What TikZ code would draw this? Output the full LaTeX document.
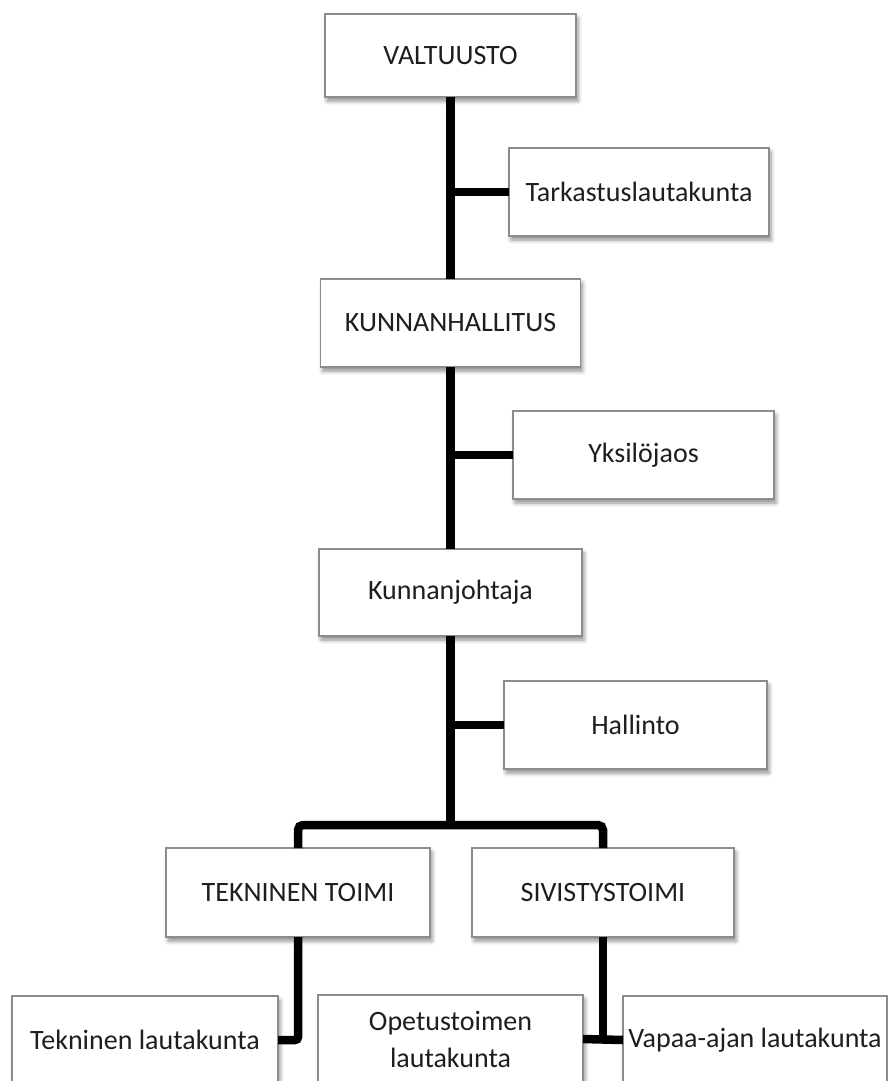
\documentclass[tikz,border=0pt]{standalone}
\usepackage{fontspec}
\setmainfont{Carlito}
\usetikzlibrary{shadows.blur}
\definecolor{boxline}{HTML}{8C8C8C}
\definecolor{txt}{HTML}{1E1E1E}
\tikzset{
  orgbox/.style={draw=boxline, line width=1.4pt, fill=white, inner sep=0pt, outer sep=0pt,
    text=txt, font=\fontsize{28}{37}\selectfont,
    blur shadow={shadow xshift=2pt, shadow yshift=-4pt, shadow blur radius=4pt, shadow opacity=45}},
  link/.style={line width=8.5pt, black}
}
\begin{document}
\begin{tikzpicture}[x=1pt,y=-1pt]
\useasboundingbox (0,0) rectangle (888,1081);
\clip (0,0) rectangle (888,1081);
\node[orgbox, minimum width=251pt, minimum height=83pt] (valt) at (450.5,55.5) {VALTUUSTO};
\node[orgbox, minimum width=260pt, minimum height=88pt] (tark) at (639,192) {Tarkastuslautakunta};
\node[orgbox, minimum width=260pt, minimum height=88pt] (khall) at (450.5,323) {KUNNANHALLITUS};
\node[orgbox, minimum width=261pt, minimum height=88pt] (yksi) at (643.5,455) {Yksilöjaos};
\node[orgbox, minimum width=263pt, minimum height=87pt] (kjoht) at (450.5,592.5) {Kunnanjohtaja};
\node[orgbox, minimum width=263pt, minimum height=88pt] (hall) at (635.5,725) {Hallinto};
\node[orgbox, minimum width=264pt, minimum height=89pt] (tek) at (298,892.5) {TEKNINEN TOIMI};
\node[orgbox, minimum width=262pt, minimum height=89pt] (siv) at (603,892.5) {SIVISTYSTOIMI};
\node[orgbox, minimum width=266pt, minimum height=88pt] (teklk) at (145,1040) {Tekninen lautakunta};
\node[orgbox, minimum width=265pt, minimum height=88pt, align=center] (opet) at (450.5,1039) {Opetustoimen\\lautakunta};
\node[orgbox, minimum width=264pt, minimum height=88pt] (vapaa) at (755,1040) {Vapaa-ajan lautakunta};
\coordinate (bar) at (450.5,825);
% trunk
\draw[link] (valt.south) -- (khall.north);
\draw[link] (tark.west) -- (tark.west -| valt.south);
\draw[link] (khall.south) -- (kjoht.north);
\draw[link] (yksi.west) -- (yksi.west -| khall.south);
\draw[link] (kjoht.south) -- (bar);
\draw[link] (hall.west) -- (hall.west -| kjoht.south);
\draw[link, rounded corners=5pt] (tek.north) |- (bar) -| (siv.north);
% bottom
\draw[link, rounded corners=3pt] (tek.south) |- (teklk.east);
\draw[link] (siv.south) -- (siv.south |- vapaa.west);
\draw[link] (opet.east) -- (vapaa.west);
\end{tikzpicture}
\end{document}
